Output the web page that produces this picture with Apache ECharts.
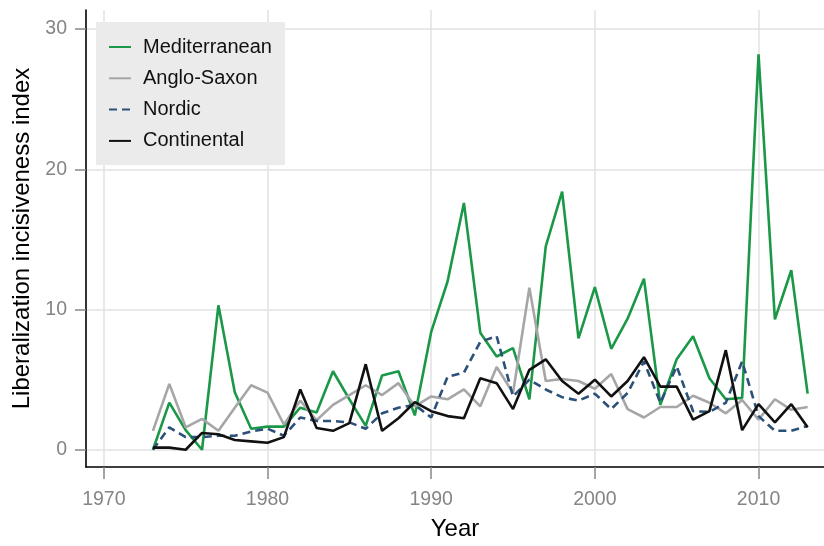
<!DOCTYPE html>
<html><head><meta charset="utf-8">
<script src="https://cdn.jsdelivr.net/npm/echarts@6/dist/echarts.min.js"></script>
<style>html,body{margin:0;padding:0;background:#fff;overflow:hidden}#c{width:824px;height:546px}</style>
</head><body><div id="c"></div>
<script>
var years = [];
for (var y = 1973; y <= 2013; y++) years.push(y);
var mediterranean = [0,3.36,1.4,0,10.3,4.1,1.5,1.65,1.65,3.0,2.65,5.6,3.6,1.7,5.3,5.6,2.45,8.4,12.0,17.6,8.35,6.65,7.25,3.6,14.5,18.4,7.95,11.6,7.2,9.35,12.2,3.2,6.45,8.1,5.1,3.6,3.7,28.2,9.3,12.8,4.0];
var angloSaxon = [1.35,4.7,1.6,2.2,1.35,3.0,4.6,4.07,1.8,3.5,2.1,3.2,3.9,4.6,3.9,4.75,3.1,3.8,3.6,4.3,3.1,5.9,4.05,11.55,4.9,5.05,4.9,4.35,5.4,2.9,2.3,3.05,3.05,3.85,3.35,2.6,3.55,2.15,3.6,2.85,3.05];
var nordic = [0,1.6,0.9,0.9,1.0,1.0,1.3,1.5,1.0,2.3,2.05,2.05,1.95,1.5,2.6,3.0,3.2,2.3,5.2,5.5,7.7,8.1,3.8,5.0,4.3,3.75,3.5,4.0,2.9,4.05,6.3,3.35,5.95,2.75,2.7,3.35,6.3,2.4,1.35,1.35,1.7];
var continental = [0.15,0.15,0,1.2,1.1,0.7,0.6,0.5,0.9,4.3,1.55,1.35,1.9,6.1,1.35,2.25,3.4,2.75,2.4,2.25,5.1,4.75,2.9,5.7,6.45,4.9,4.0,5.0,3.8,4.9,6.6,4.5,4.5,2.15,2.75,7.1,1.4,3.25,1.95,3.25,1.6];
var xTicks = [1970,1980,1990,2000,2010];
var yTicks = [0,10,20,30];

function pairs(v){ return years.map(function(yr,i){ return [yr, v[i]]; }); }
var FONT = '"Liberation Sans", Arial, sans-serif';

var chart = echarts.init(document.getElementById('c'), null, {renderer:'canvas'});
function mk(name, data, color, type){
  return {name:name, type:'line', data:pairs(data), symbol:'none', showSymbol:false,
    lineStyle:{color:color, width:2.6, type:type||'solid'}, itemStyle:{color:color}};
}
chart.setOption({
  animation:false,
  backgroundColor:'#fff',
  grid:{left:86, right:0, top:10, bottom:74.3, containLabel:false},
  xAxis:{type:'value', min:1968.91, max:2014,
    name:'Year', nameLocation:'middle', nameGap:50,
    nameTextStyle:{fontFamily:FONT, fontSize:24, color:'#000'},
    axisLine:{show:true, onZero:false, lineStyle:{color:'#000', width:1.6}},
    axisTick:{show:true, customValues:xTicks, length:12, lineStyle:{color:'#888', width:1.5}},
    axisLabel:{customValues:xTicks, margin:23, fontFamily:FONT, fontSize:19.5, color:'#858585', formatter:function(v){return String(v);}},
    splitLine:{show:true, lineStyle:{color:'#e2e2e2', width:1.5}}
  },
  yAxis:{type:'value', min:-1.23, max:31.36,
    name:'Liberalization incisiveness index', nameLocation:'middle', nameGap:52,
    nameTextStyle:{fontFamily:FONT, fontSize:24, color:'#000'},
    axisLine:{show:true, onZero:false, lineStyle:{color:'#000', width:1.6}},
    axisTick:{show:true, customValues:yTicks, length:11, lineStyle:{color:'#888', width:1.5}},
    axisLabel:{customValues:yTicks, margin:19, fontFamily:FONT, fontSize:19.5, color:'#858585'},
    splitLine:{show:true, lineStyle:{color:'#e2e2e2', width:1.5}}
  },
  legend:{orient:'vertical', left:96, top:22, backgroundColor:'#ebebeb', borderRadius:0,
    padding:[15,13,14,12], itemWidth:22, itemHeight:12, itemGap:11.3,
    itemStyle:{color:'transparent', borderWidth:0, opacity:0},
    textStyle:{fontFamily:FONT, fontSize:20, color:'#111', padding:[0,0,0,7]},
    data:['Mediterranean','Anglo-Saxon','Nordic','Continental']},
  series:[
    mk('Mediterranean', mediterranean, '#1b9847'),
    mk('Anglo-Saxon', angloSaxon, '#a6a6a8'),
    mk('Nordic', nordic, '#2b5079', [8,5]),
    mk('Continental', continental, '#111111')
  ]
});
</script></body></html>
